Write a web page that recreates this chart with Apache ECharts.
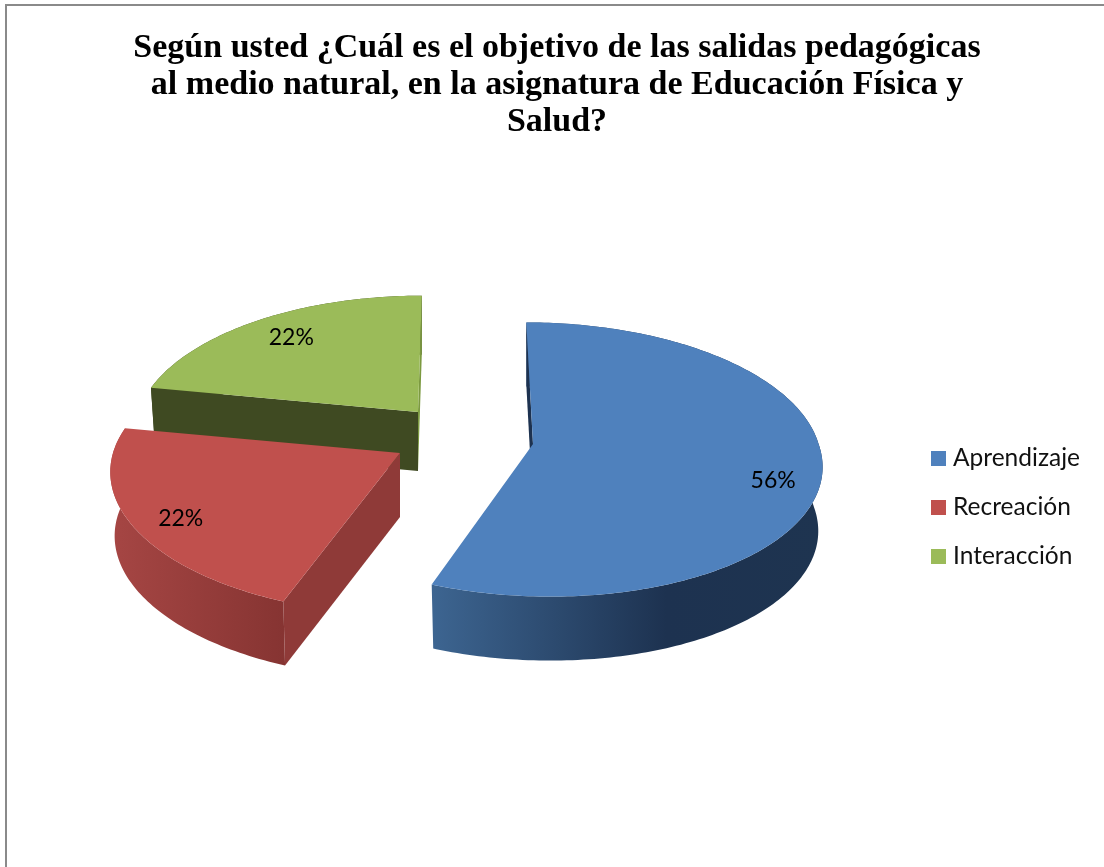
<!DOCTYPE html>
<html><head><meta charset="utf-8">
<style>html,body{margin:0;padding:0;background:#fff}#c{width:1104px;height:867px}</style>
<script src="https://cdn.jsdelivr.net/npm/echarts@6/dist/echarts.min.js"></script>
</head><body><div id="c"></div>
<script>
const titleLines = ['Según usted ¿Cuál es el objetivo de las salidas pedagógicas','al medio natural, en la asignatura de Educación Física y','Salud?'];
const categories = ['Aprendizaje','Recreación','Interacción'];
const values = [56,22,22];
const percentLabels = ['56%','22%','22%'];
const topColors = ['#4f81bd','#c0504d','#9bbb59'];

// layout of the fake-3D projection (styling, not data)
const R = 287, Ry = 136, bottomScale = 0.985;
const slices = [
  {apex:[533,444], scale:0.995,persp:0.113, depth:64, shearUp:0.055, shearDown:0.115, labelAt:0.85, labelShift:[-6,15], startWall:'#1d3250', rim:[[0,'#3d6591'],[0.6,'#1d3250'],[1,'#1e3450']]},
  {apex:[400,453], scale:1,    persp:0.16,  depth:64, shearUp:0.05,  shearDown:0.05,  labelAt:0.86, labelShift:[12,5],  radial:'#8f3a38', rim:[[0,'#a64644'],[1,'#863432']]},
  {apex:[418,412], scale:0.975,persp:0.14,  depth:59, shearUp:-0.033,shearDown:-0.033,labelAt:0.72, labelShift:[-13,-8],radial:'#3f4a22', rim:[[0,'#3f4a22'],[1,'#3f4a22']], endWall:'#7c9a40'}
];
const total = values.reduce((a,b)=>a+b,0);

function rimPoint(s, deg){
  const t = deg*Math.PI/180, u = Math.sin(t), v = Math.cos(t), w = 1+s.persp*v;
  const dy = -Ry*v/w*s.scale;
  return [s.apex[0] + R*u/w*s.scale + (dy<0?s.shearUp:s.shearDown)*dy, s.apex[1] + dy];
}

function makeRender(i){
  return function(params, api){
    const s = slices[i];
    const down = p => [s.apex[0]+(p[0]-s.apex[0])*bottomScale, p[1]+s.depth];
    let cum = 0;
    for (let k=0;k<i;k++) cum += values[k];
    const a0 = cum/total*360, a1 = (cum+api.value(0))/total*360;
    const rim = [];
    for (let a=a0; a<a1; a+=1) rim.push(rimPoint(s,a));
    rim.push(rimPoint(s,a1));
    const first = rim[0], last = rim[rim.length-1], apex = s.apex;
    const children = [];
    // outer wall
    children.push({type:'polygon', shape:{points: rim.concat(rim.slice().reverse().map(down))},
      style:{fill:new echarts.graphic.LinearGradient(0,0,1,0,s.rim.map(c=>({offset:c[0],color:c[1]})))}});
    // radial walls
    if (s.startWall) children.push({type:'polygon', shape:{points:[first,apex,down(apex),down(first)]}, style:{fill:s.startWall}});
    if (s.radial) children.push({type:'polygon', shape:{points:[first,apex,down(apex),down(first)]}, style:{fill:s.radial}});
    if (s.endWall) children.push({type:'polygon', shape:{points:[last,apex,down(apex),down(last)]}, style:{fill:s.endWall}});
    // top face
    children.push({type:'polygon', shape:{points: rim.concat([apex])}, style:{fill:topColors[i]}});
    // percent label
    const mid = rimPoint(s,(a0+a1)/2);
    children.push({type:'text', z2:10, style:{
      x: apex[0]+(mid[0]-apex[0])*s.labelAt+s.labelShift[0], y: apex[1]+(mid[1]-apex[1])*s.labelAt+s.labelShift[1],
      text: percentLabels[i], fill:'#000', font:'23px Lato', align:'center', verticalAlign:'middle'}});
    return {type:'group', children};
  };
}

const chart = echarts.init(document.getElementById('c'), null, {renderer:'canvas'});
chart.setOption({
  animation:false,
  backgroundColor:'#fff',
  title:{text:titleLines.join('\n'), left:552, top:25, textAlign:'center',
    textStyle:{fontFamily:'Liberation Serif', fontWeight:'bold', fontSize:34, lineHeight:37, color:'#000'}},
  legend:{orient:'vertical', left:926, top:441, itemWidth:15, itemHeight:15, itemGap:24, icon:'rect',
    data:categories, textStyle:{fontFamily:'Lato', fontSize:24.5, color:'#111', padding:[0,0,0,2]}},
  graphic:[{type:'polyline', shape:{points:[[6,867],[6,5],[1104,5]]}, style:{stroke:'#8a8a8a', lineWidth:2, fill:null}}],
  series:[2,1,0].map(i=>({
    type:'custom', name:categories[i], coordinateSystem:'none', z:3-i,
    itemStyle:{color:topColors[i]},
    renderItem:makeRender(i),
    data:[[values[i]]]
  }))
});
</script></body></html>
